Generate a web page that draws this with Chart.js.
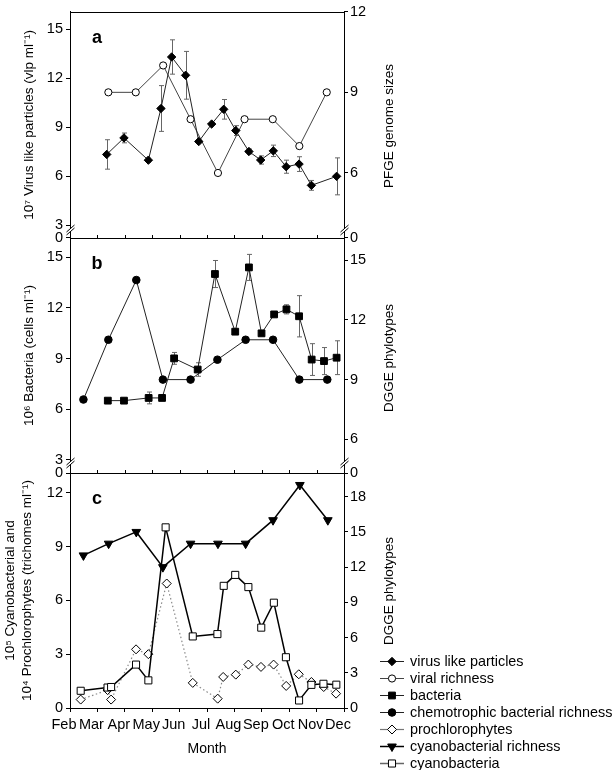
<!DOCTYPE html>
<html>
<head>
<meta charset="utf-8">
<title>Seasonal viral, bacterial and cyanobacterial abundance and richness</title>
<script src="https://cdn.jsdelivr.net/npm/chart.js@4.4.1/dist/chart.umd.min.js"></script>
<style>
  html, body { margin: 0; padding: 0; background: #fff; }
  #wrap { position: relative; width: 616px; height: 770px; }
  #wrap canvas { position: absolute; left: 0; top: 0; }
</style>
</head>
<body>
<div id="wrap">
  <canvas id="chartA" width="616" height="770"></canvas>
  <canvas id="chartB" width="616" height="770"></canvas>
  <canvas id="chartC" width="616" height="770"></canvas>
</div>
<script>
// month ticks on the x axis (0 = Feb ... 10 = Dec)
const months = ['Feb', 'Mar', 'Apr', 'May', 'Jun', 'Jul', 'Aug', 'Sep', 'Oct', 'Nov', 'Dec'];

// panel a
const vlpX = [1.34, 1.97, 2.86, 3.32, 3.71, 4.22, 4.70, 5.17, 5.61, 6.05, 6.53, 6.96, 7.42, 7.89, 8.36, 8.81, 9.73];
const vlpY = [7.34, 8.35, 6.99, 10.15, 13.3, 12.18, 8.13, 9.2, 10.1, 8.8, 7.52, 7.0, 7.56, 6.59, 6.75, 5.45, 6.0];
const vlpErr = [0.9, 0.3, 0.12, 1.4, 1.05, 1.46, 0, 0, 0.6, 0.3, 0.15, 0.25, 0.35, 0.4, 0.45, 0.3, 1.13];
const viralRichX = [1.40, 2.40, 3.40, 4.40, 5.40, 6.37, 7.40, 8.37, 9.37];
const viralRichY = [9, 9, 10, 8, 6, 8, 8, 7, 9];

// panel b
const bactX = [1.38, 1.97, 2.87, 3.36, 3.80, 4.66, 5.29, 6.03, 6.53, 6.99, 7.45, 7.90, 8.36, 8.82, 9.27, 9.73];
const bactY = [6.51, 6.51, 6.67, 6.67, 9.01, 8.35, 14.0, 10.59, 14.39, 10.49, 11.61, 11.91, 11.5, 8.94, 8.85, 9.05];
const bactErr = [0, 0, 0.35, 0, 0.35, 0.4, 0.8, 0, 0.77, 0, 0.1, 0.27, 1.22, 0.94, 0.8, 1.0];
const chemoX = [0.49, 1.40, 2.42, 3.39, 4.40, 5.38, 6.41, 7.41, 8.37, 9.39];
const chemoY = [8, 11, 14, 9, 9, 10, 11, 11, 9, 9];

// panel c
const cyanoX = [0.39, 1.37, 1.50, 2.41, 2.86, 3.49, 4.48, 5.38, 5.61, 6.03, 6.51, 6.98, 7.44, 7.88, 8.36, 8.81, 9.25, 9.72];
const cyanoY = [0.96, 1.14, 1.17, 2.42, 1.54, 10.07, 3.99, 4.12, 6.81, 7.42, 6.74, 4.48, 5.87, 2.83, 0.42, 1.29, 1.35, 1.3];
const prochX = [0.39, 1.37, 1.50, 2.41, 2.86, 3.53, 4.48, 5.39, 5.59, 6.05, 6.51, 6.97, 7.43, 7.89, 8.35, 8.81, 9.26, 9.71];
const prochY = [0.47, 1.0, 0.47, 3.27, 3.0, 6.94, 1.40, 0.52, 1.73, 1.86, 2.42, 2.29, 2.42, 1.23, 1.88, 1.45, 1.17, 0.8];
const cyanoRichX = [0.49, 1.41, 2.42, 3.39, 4.40, 5.40, 6.41, 7.41, 8.39, 9.41];
const cyanoRichY = [13, 14, 15, 12, 14, 14, 14, 16, 19, 16];

// y axis tick labels
const ticksLeftA = [3, 6, 9, 12, 15];
const ticksRightA = [6, 9, 12];
const ticksLeftB = [3, 6, 9, 12, 15];
const ticksRightB = [6, 9, 12, 15];
const ticksLeftC = [0, 3, 6, 9, 12];
const ticksRightC = [0, 3, 6, 9, 12, 15, 18];

Chart.defaults.font.family = "'Liberation Sans', Arial, Helvetica, sans-serif";
Chart.defaults.font.size = 14;
Chart.defaults.color = '#000';

const FONT = "'Liberation Sans', Arial, Helvetica, sans-serif";
const PLOT_LEFT = 70, PLOT_RIGHT = 344, PAGE_W = 616, PAGE_H = 770;

// marker / line look of each series (also used by the legend)
const styles = {
  vlp:      { label: 'virus like particles', pointStyle: 'rectRot', radius: 4.2, fill: '#000', line: '#222', width: 1 },
  viral:    { label: 'viral richness', pointStyle: 'circle', radius: 3.6, fill: '#fff', line: '#444', width: 1 },
  bact:     { label: 'bacteria', pointStyle: 'rect', radius: 4.8, fill: '#000', line: '#222', width: 1 },
  chemo:    { label: 'chemotrophic bacterial richness', pointStyle: 'circle', radius: 3.8, fill: '#000', line: '#222', width: 1 },
  proch:    { label: 'prochlorophytes', pointStyle: 'rectRot', radius: 4.5, fill: '#fff', line: '#8a8a8a', width: 1.2, dash: [1.5, 2.5], legendLine: '#777' },
  cyanoRich:{ label: 'cyanobacterial richness', pointStyle: 'triangle', radius: 5, rotation: 180, fill: '#000', line: '#000', width: 1.5 },
  cyano:    { label: 'cyanobacteria', pointStyle: 'rect', radius: 5, fill: '#fff', line: '#000', width: 1.5, legendLine: '#666' }
};
const legendOrder = ['vlp', 'viral', 'bact', 'chemo', 'proch', 'cyanoRich', 'cyano'];

function series(st, xs, ys, yAxisID, errs) {
  return {
    label: st.label,
    data: xs.map((x, i) => ({ x: x, y: ys[i] })),
    yAxisID: yAxisID,
    errors: errs || null,
    borderColor: st.line,
    borderWidth: st.width,
    borderDash: st.dash || [],
    pointStyle: st.pointStyle,
    pointRadius: st.radius,
    pointHoverRadius: st.radius,
    pointRotation: st.rotation || 0,
    pointBackgroundColor: st.fill,
    pointBorderColor: '#000',
    pointBorderWidth: 1,
    tension: 0,
    fill: false
  };
}

function yAxis(pos, min, max, ticks, broken, title) {
  const left = pos === 'left';
  const ax = {
    type: 'linear',
    position: pos,
    min: min,
    max: max,
    afterBuildTicks: s => { s.ticks = (broken ? [min] : []).concat(ticks).map(v => ({ value: v })); },
    afterFit: s => { s.width = left ? PLOT_LEFT : PAGE_W - PLOT_RIGHT; },
    ticks: {
      autoSkip: false,
      padding: left ? 3 : 2,
      color: '#000',
      font: { size: 14.5 },
      callback: v => (broken && v === min) ? '0' : String(v)
    },
    grid: { drawOnChartArea: false, drawTicks: true, tickLength: 4, color: '#000', lineWidth: 1 },
    border: { display: true, color: '#000', width: 1 }
  };
  if (title) ax.title = title;
  return ax;
}

function xAxis(show) {
  return {
    type: 'linear',
    min: 0,
    max: 10,
    display: show,
    afterFit: s => { if (show) s.height = 62; },
    ticks: {
      stepSize: 1,
      autoSkip: false,
      maxRotation: 0,
      minRotation: 0,
      padding: 4,
      labelOffset: -6,
      color: '#000',
      font: { size: 14.5 },
      callback: v => months[v] !== undefined ? months[v] : ''
    },
    grid: { drawOnChartArea: false, drawTicks: true, tickLength: 4, color: '#000' },
    border: { display: true, color: '#000' },
    title: { display: show, text: 'Month', font: { size: 14, lineHeight: 1.25 }, padding: { top: 0, bottom: 12 } }
  };
}

function drawBreak(ctx, x, y) {
  ctx.save();
  ctx.fillStyle = '#fff';
  ctx.beginPath();
  ctx.moveTo(x - 4, y + 2);
  ctx.lineTo(x + 4, y - 5);
  ctx.lineTo(x + 4, y - 2);
  ctx.lineTo(x - 4, y + 5);
  ctx.closePath();
  ctx.fill();
  ctx.strokeStyle = '#000';
  ctx.lineWidth = 1;
  ctx.beginPath();
  ctx.moveTo(x - 4, y + 2); ctx.lineTo(x + 4, y - 5);
  ctx.moveTo(x - 4, y + 5); ctx.lineTo(x + 4, y - 2);
  ctx.stroke();
  ctx.restore();
}

// frame, error bars, axis breaks, panel letters, right titles, legend
const panelDeco = {
  id: 'panelDeco',
  beforeDatasetsDraw(chart) {
    const ctx = chart.ctx;
    chart.data.datasets.forEach((ds, i) => {
      if (!ds.errors) return;
      const meta = chart.getDatasetMeta(i);
      const ys = chart.scales[ds.yAxisID];
      ctx.save();
      ctx.strokeStyle = '#666';
      ctx.lineWidth = 1;
      meta.data.forEach((pt, j) => {
        const e = ds.errors[j];
        if (!e) return;
        const v = ds.data[j].y;
        const yt = ys.getPixelForValue(v + e);
        const yb = ys.getPixelForValue(v - e);
        const x = Math.round(pt.x) + 0.5;
        ctx.beginPath();
        ctx.moveTo(x, yt); ctx.lineTo(x, yb);
        ctx.moveTo(x - 2.5, yt); ctx.lineTo(x + 2.5, yt);
        ctx.moveTo(x - 2.5, yb); ctx.lineTo(x + 2.5, yb);
        ctx.stroke();
      });
      ctx.restore();
    });
  },
  afterDraw(chart, args, opts) {
    const ctx = chart.ctx;
    const a = chart.chartArea;
    ctx.save();
    ctx.strokeStyle = '#000';
    ctx.lineWidth = 1;
    ctx.strokeRect(Math.round(a.left) + 0.5, Math.round(a.top) + 0.5, Math.round(a.right - a.left), Math.round(a.bottom - a.top));

    // month ticks on the shared panel boundary
    if (opts.innerTicks) {
      const xs = chart.scales.x;
      ctx.beginPath();
      for (let m = 0; m <= 10; m++) {
        const px = Math.round(xs.getPixelForValue(m)) + 0.5;
        ctx.moveTo(px, a.bottom - 3);
        ctx.lineTo(px, a.bottom);
      }
      ctx.stroke();
    }

    if (opts.breakOffset) {
      drawBreak(ctx, Math.round(a.left) + 0.5, a.bottom - opts.breakOffset);
      drawBreak(ctx, Math.round(a.right) + 0.5, a.bottom - opts.breakOffset);
    }

    // panel letter
    ctx.fillStyle = '#000';
    ctx.font = 'bold 18px ' + FONT;
    ctx.textAlign = 'center';
    ctx.textBaseline = 'middle';
    ctx.fillText(opts.letter, a.left + 27, a.top + 26);

    // right axis title, reading bottom to top
    ctx.save();
    ctx.font = '13.5px ' + FONT;
    ctx.translate(389, opts.rightTitleY);
    ctx.rotate(-Math.PI / 2);
    ctx.fillText(opts.rightTitle, 0, 0);
    ctx.restore();

    if (opts.legend) {
      ctx.font = '14.4px ' + FONT;
      ctx.textAlign = 'left';
      legendOrder.forEach((key, i) => {
        const st = styles[key];
        const y = 661 + i * 17;
        ctx.strokeStyle = st.legendLine || st.line;
        ctx.lineWidth = st.width;
        ctx.beginPath();
        ctx.moveTo(380, y + 0.5);
        ctx.lineTo(404, y + 0.5);
        ctx.stroke();
        ctx.fillStyle = st.fill;
        ctx.strokeStyle = '#000';
        ctx.lineWidth = 1;
        Chart.helpers.drawPoint(ctx, { pointStyle: st.pointStyle, radius: st.radius, rotation: st.rotation || 0, borderWidth: 1 }, 392, y + 0.5);
        ctx.fillStyle = '#000';
        ctx.fillText(st.label, 410, y + 1);
      });
    }
    ctx.restore();
  }
};

function baseOptions(padTop, padBottom, deco, scales) {
  return {
    responsive: false,
    animation: false,
    events: [],
    layout: { padding: { left: 0, right: 0, top: padTop, bottom: padBottom } },
    plugins: { legend: { display: false }, tooltip: { enabled: false }, panelDeco: deco },
    scales: scales
  };
}

const titleFont = { size: 13.5, lineHeight: 1.25 };

new Chart(document.getElementById('chartA'), {
  type: 'line',
  data: {
    datasets: [
      series(styles.vlp, vlpX, vlpY, 'y', vlpErr),
      series(styles.viral, viralRichX, viralRichY, 'y2')
    ]
  },
  options: baseOptions(5, PAGE_H - 238,
    { letter: 'a', breakOffset: 8, innerTicks: true, rightTitle: 'PFGE genome sizes', rightTitleY: 126 },
    {
      x: xAxis(false),
      y: yAxis('left', 2.23, 16.07, ticksLeftA, true,
        { display: true, text: '10⁷ Virus like particles (vlp ml⁻¹)', font: titleFont, padding: { top: 21, bottom: 0 } }),
      y2: yAxis('right', 3.58, 12, ticksRightA, true)
    }),
  plugins: [panelDeco]
});

new Chart(document.getElementById('chartB'), {
  type: 'line',
  data: {
    datasets: [
      series(styles.bact, bactX, bactY, 'y', bactErr),
      series(styles.chemo, chemoX, chemoY, 'y2')
    ]
  },
  options: baseOptions(238, PAGE_H - 473,
    { letter: 'b', breakOffset: 10, innerTicks: true, rightTitle: 'DGGE phylotypes', rightTitleY: 358 },
    {
      x: xAxis(false),
      y: yAxis('left', 2.23, 16.13, ticksLeftB, true,
        { display: true, text: '10⁶ Bacteria (cells ml⁻¹)', font: titleFont, padding: { top: 21, bottom: 0 } }),
      y2: yAxis('right', 4.31, 16.11, ticksRightB, true)
    }),
  plugins: [panelDeco]
});

new Chart(document.getElementById('chartC'), {
  type: 'line',
  data: {
    datasets: [
      series(styles.cyanoRich, cyanoRichX, cyanoRichY, 'y2'),
      series(styles.cyano, cyanoX, cyanoY, 'y'),
      series(styles.proch, prochX, prochY, 'y')
    ]
  },
  options: baseOptions(473, 0,
    { letter: 'c', rightTitle: 'DGGE phylotypes', rightTitleY: 591, legend: true },
    {
      x: xAxis(true),
      y: yAxis('left', 0, 13.1, ticksLeftC, false,
        { display: true, text: ['10⁵ Cyanobacterial and', '10⁴ Prochlorophytes (trichomes ml⁻¹)'], font: titleFont, padding: { top: 2, bottom: 0 } }),
      y2: yAxis('right', 0, 20.02, ticksRightC, false)
    }),
  plugins: [panelDeco]
});
</script>
</body>
</html>
